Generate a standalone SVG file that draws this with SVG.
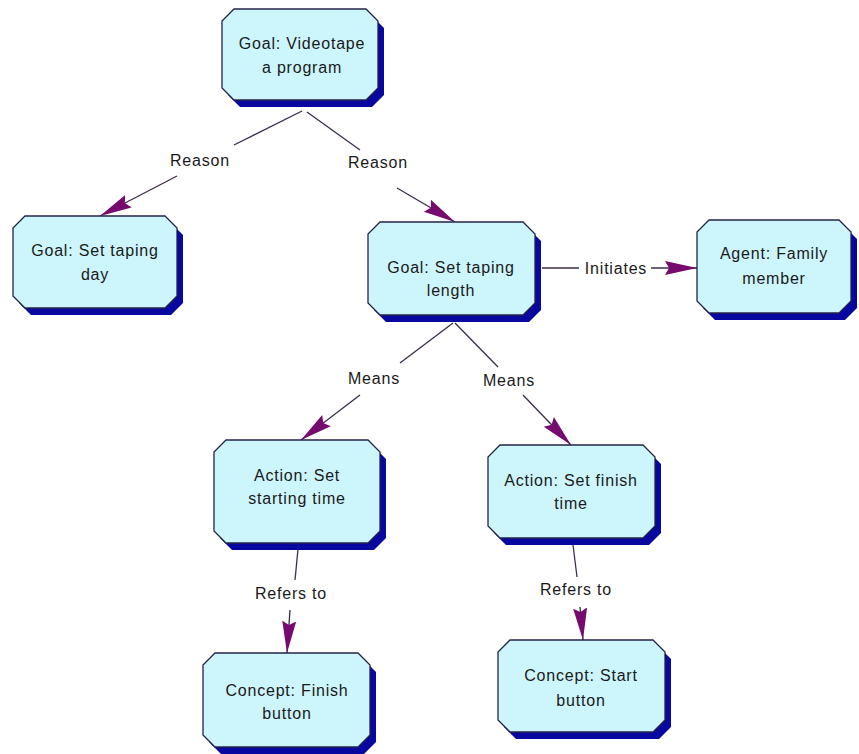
<svg xmlns="http://www.w3.org/2000/svg" width="859" height="754" viewBox="0 0 859 754">
<style>
.sh{fill:#0808a0}
.bx{fill:#cdf5fc;stroke:#23234a;stroke-width:1.3}
.t{font-family:"Liberation Sans",Arial,sans-serif;font-size:16px;letter-spacing:0.8px;fill:#1a1a1a;text-anchor:middle}
.ln{stroke:#3c2c48;stroke-width:1.3;fill:none}
</style>
<defs>
<marker id="ah" viewBox="0 0 32 16" refX="32" refY="8" markerWidth="32" markerHeight="16" markerUnits="userSpaceOnUse" orient="auto">
<path d="M0,1 L32,8 L0,15 L4,8 z" fill="#760a6e"/>
</marker>
</defs>
<rect width="859" height="754" fill="#ffffff"/>
<g id="connectors">
<line class="ln" x1="302" y1="111" x2="234" y2="145"/>
<line class="ln" x1="177" y1="176" x2="100" y2="216" marker-end="url(#ah)"/>
<text class="t" x="200" y="166">Reason</text>
<line class="ln" x1="307" y1="112" x2="360" y2="150"/>
<line class="ln" x1="397" y1="188" x2="455" y2="222" marker-end="url(#ah)"/>
<text class="t" x="378" y="168">Reason</text>
<line class="ln" x1="542" y1="268" x2="579" y2="268"/>
<line class="ln" x1="651" y1="268" x2="697" y2="268" marker-end="url(#ah)"/>
<text class="t" x="616" y="274">Initiates</text>
<line class="ln" x1="453" y1="323" x2="400" y2="363"/>
<line class="ln" x1="360" y1="395" x2="301" y2="440" marker-end="url(#ah)"/>
<text class="t" x="374" y="384">Means</text>
<line class="ln" x1="455" y1="323" x2="498" y2="367"/>
<line class="ln" x1="523" y1="395" x2="571" y2="445" marker-end="url(#ah)"/>
<text class="t" x="509" y="386">Means</text>
<line class="ln" x1="298" y1="549" x2="295" y2="580"/>
<line class="ln" x1="290" y1="610" x2="287" y2="653" marker-end="url(#ah)"/>
<text class="t" x="291" y="599">Refers to</text>
<line class="ln" x1="573" y1="545" x2="577" y2="577"/>
<line class="ln" x1="580" y1="607" x2="583" y2="640" marker-end="url(#ah)"/>
<text class="t" x="576" y="595">Refers to</text>
</g>
<g id="n1">
<polygon class="sh" transform="translate(6,7)" points="234,9 366,9 378,21 378,88 366,100 234,100 222,88 222,21"/>
<polygon class="bx" points="234,9 366,9 378,21 378,88 366,100 234,100 222,88 222,21"/>
<text class="t" x="302" y="49">Goal: Videotape</text>
<text class="t" x="302" y="73">a program</text>
</g>
<g id="n2">
<polygon class="sh" transform="translate(6,7)" points="25,216 165,216 177,228 177,296 165,308 25,308 13,296 13,228"/>
<polygon class="bx" points="25,216 165,216 177,228 177,296 165,308 25,308 13,296 13,228"/>
<text class="t" x="95" y="256">Goal: Set taping</text>
<text class="t" x="95" y="280">day</text>
</g>
<g id="n3">
<polygon class="sh" transform="translate(6,7)" points="380,222 523,222 535,234 535,303 523,315 380,315 368,303 368,234"/>
<polygon class="bx" points="380,222 523,222 535,234 535,303 523,315 380,315 368,303 368,234"/>
<text class="t" x="451" y="273">Goal: Set taping</text>
<text class="t" x="451" y="296">length</text>
</g>
<g id="n4">
<polygon class="sh" transform="translate(6,7)" points="709,220 839,220 851,232 851,301 839,313 709,313 697,301 697,232"/>
<polygon class="bx" points="709,220 839,220 851,232 851,301 839,313 709,313 697,301 697,232"/>
<text class="t" x="774" y="259">Agent: Family</text>
<text class="t" x="774" y="284">member</text>
</g>
<g id="n5">
<polygon class="sh" transform="translate(6,7)" points="226,440 368,440 380,452 380,531 368,543 226,543 214,531 214,452"/>
<polygon class="bx" points="226,440 368,440 380,452 380,531 368,543 226,543 214,531 214,452"/>
<text class="t" x="297" y="481">Action: Set</text>
<text class="t" x="297" y="504">starting time</text>
</g>
<g id="n6">
<polygon class="sh" transform="translate(6,7)" points="500,445 643,445 655,457 655,526 643,538 500,538 488,526 488,457"/>
<polygon class="bx" points="500,445 643,445 655,457 655,526 643,538 500,538 488,526 488,457"/>
<text class="t" x="571" y="486">Action: Set finish</text>
<text class="t" x="571" y="509">time</text>
</g>
<g id="n7">
<polygon class="sh" transform="translate(6,7)" points="215,653 358,653 370,665 370,735 358,747 215,747 203,735 203,665"/>
<polygon class="bx" points="215,653 358,653 370,665 370,735 358,747 215,747 203,735 203,665"/>
<text class="t" x="287" y="696">Concept: Finish</text>
<text class="t" x="287" y="719">button</text>
</g>
<g id="n8">
<polygon class="sh" transform="translate(6,7)" points="510,640 653,640 665,652 665,720 653,732 510,732 498,720 498,652"/>
<polygon class="bx" points="510,640 653,640 665,652 665,720 653,732 510,732 498,720 498,652"/>
<text class="t" x="581" y="681">Concept: Start</text>
<text class="t" x="581" y="706">button</text>
</g>
</svg>
